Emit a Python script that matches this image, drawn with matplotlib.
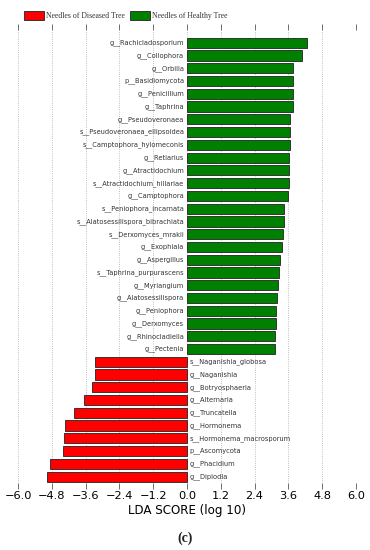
import matplotlib
matplotlib.use("Agg")
import matplotlib.pyplot as plt
from matplotlib.patches import Patch

# Top-to-bottom order as shown in the chart
labels = [
    "g__Rachicladosporium", "g__Collophora", "g__Orbilia", "p__Basidiomycota",
    "g__Penicillium", "g__Taphrina", "g__Pseudoveronaea",
    "s__Pseudoveronaea_ellipsoidea", "s__Camptophora_hylomeconis", "g__Retiarius",
    "g__Atractidochium", "s__Atractidochium_hillariae", "g__Camptophora",
    "s__Peniophora_incarnata", "s__Alatosessilispora_bibrachiata",
    "s__Derxomyces_mrakii", "g__Exophiala", "g__Aspergillus",
    "s__Taphrina_purpurascens", "g__Myriangium", "g__Alatosessilispora",
    "g__Peniophora", "g__Derxomyces", "g__Rhinocladiella", "g__Pectenia",
    "s__Naganishia_globosa", "g__Naganishia", "g__Botryosphaeria",
    "g__Alternaria", "g__Truncatella", "g__Hormonema",
    "s__Hormonema_macrosporum", "p__Ascomycota", "g__Phacidium", "g__Diplodia",
]
scores = [
    4.26, 4.10, 3.78, 3.78, 3.76, 3.75, 3.65, 3.64, 3.64, 3.63, 3.61, 3.61,
    3.57, 3.46, 3.45, 3.41, 3.37, 3.30, 3.25, 3.23, 3.19, 3.16, 3.16, 3.13,
    3.11,
    -3.25, -3.25, -3.39, -3.66, -4.00, -4.34, -4.36, -4.41, -4.86, -4.96,
]
groups = ["Needles of Diseased Tree", "Needles of Healthy Tree"]
group_colors = ["#FF0000", "#008000"]
xticks = [-6.0, -4.8, -3.6, -2.4, -1.2, 0.0, 1.2, 2.4, 3.6, 4.8, 6.0]

fig = plt.figure(figsize=(3.7, 5.5), dpi=100)
ax = fig.add_axes([18 / 370, 1 - 483 / 550, 338 / 370, (483 - 30) / 550])

n = len(labels)
ypos = [n - 1 - i for i in range(n)]
colors = [group_colors[1] if s > 0 else group_colors[0] for s in scores]
ax.barh(ypos, scores, height=0.8, color=colors, edgecolor="#222222",
        linewidth=0.6, zorder=3)

for y, s, lab in zip(ypos, scores, labels):
    if s > 0:
        ax.text(-0.1, y, lab, ha="right", va="center", fontsize=4.8,
                color="#333333", zorder=4)
    else:
        ax.text(0.1, y, lab, ha="left", va="center", fontsize=4.8,
                color="#333333", zorder=4)

ax.set_xlim(-6, 6)
ax.set_ylim(-0.5, n)
ax.set_xticks(xticks)
ax.set_xticklabels([f"{t:.1f}".replace("-", "\u2212") for t in xticks],
                   fontsize=8.2)
ax.set_yticks([])
for sp in ax.spines.values():
    sp.set_visible(False)
ax.xaxis.grid(True, linestyle=":", color="#aaaaaa", linewidth=0.6, zorder=0)
ax.xaxis.set_ticks_position("both")
ax.tick_params(axis="x", top=True, bottom=True, direction="out", length=4,
               width=0.6, color="#555555", pad=2)
ax.set_xlabel("LDA SCORE (log 10)", fontsize=8.6, labelpad=2)

handles = [Patch(facecolor=c, edgecolor="#222222", linewidth=0.6)
           for c in group_colors]
fig.legend(handles, groups, loc="upper left", bbox_to_anchor=(0.045, 0.993),
           ncol=2, frameon=False, prop={"family": "Liberation Serif", "size": 5.6},
           handlelength=2.6, handleheight=1.4, columnspacing=0.6,
           handletextpad=0.3, labelcolor="#333333")

fig.text(0.5, 1 - 538 / 550, "(c)", ha="center", va="center",
         fontsize=10, family="Liberation Serif", fontweight="bold",
         color="#222222")

fig.savefig("out.png", dpi=100)
